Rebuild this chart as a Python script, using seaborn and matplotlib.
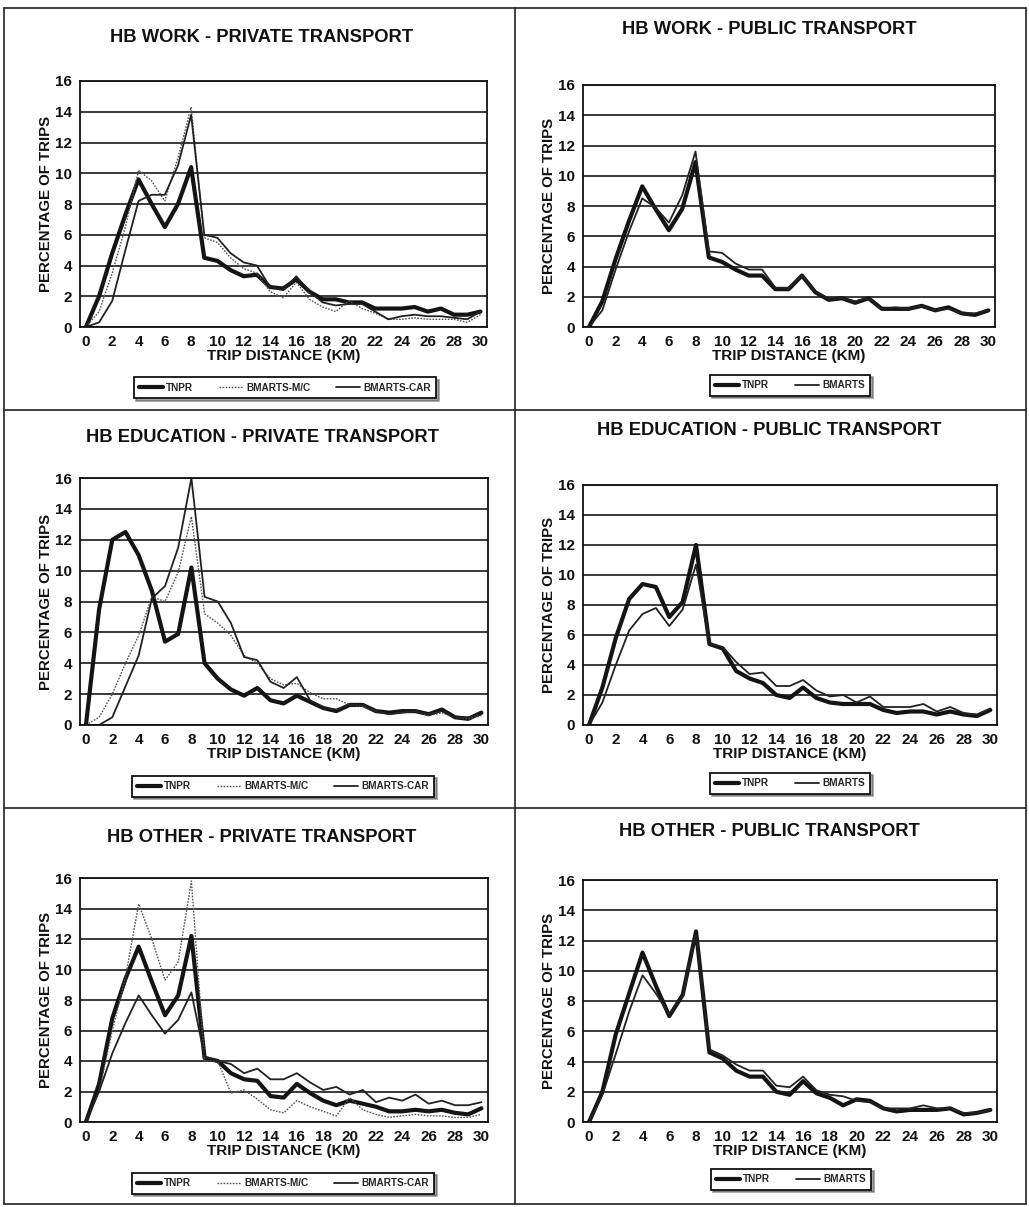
import seaborn as sns
import pandas as pd
import matplotlib.pyplot as plt
from matplotlib.lines import Line2D
from matplotlib.ticker import MultipleLocator

# trip distance in km (0..30)
distance_km = [0, 1, 2, 3, 4, 5, 6, 7, 8, 9, 10, 11, 12, 13, 14, 15,
               16, 17, 18, 19, 20, 21, 22, 23, 24, 25, 26, 27, 28, 29, 30]

# HB WORK - PRIVATE
work_priv_tnpr = [0, 2.0, 4.8, 7.3, 9.6, 8.0, 6.5, 8.0, 10.4, 4.5, 4.3, 3.7, 3.3,
                  3.4, 2.6, 2.5, 3.1, 2.3, 1.8, 1.8, 1.6, 1.6, 1.2, 1.2, 1.2,
                  1.3, 1.0, 1.2, 0.8, 0.8, 1.0]
work_priv_mc = [0, 1.0, 3.5, 6.5, 10.2, 9.5, 8.2, 11.0, 14.3, 5.8, 5.5, 4.5,
                3.8, 3.5, 2.3, 1.9, 2.9, 1.8, 1.3, 1.0, 1.7, 1.2, 0.9, 0.5,
                0.5, 0.6, 0.5, 0.5, 0.5, 0.3, 0.8]
work_priv_car = [0, 0.3, 1.7, 5.0, 8.2, 8.6, 8.6, 10.5, 13.8, 6.0, 5.8, 4.8,
                 4.2, 4.0, 2.6, 2.4, 3.3, 2.3, 1.6, 1.4, 1.5, 1.5, 1.0, 0.5,
                 0.7, 0.8, 0.7, 0.7, 0.6, 0.5, 1.0]

# HB WORK - PUBLIC
work_pub_tnpr = [0, 1.7, 4.5, 7.0, 9.3, 7.8, 6.4, 7.8, 10.9, 4.6, 4.3, 3.8,
                 3.4, 3.4, 2.5, 2.5, 3.4, 2.3, 1.8, 1.9, 1.6, 1.9, 1.2, 1.2,
                 1.2, 1.4, 1.1, 1.3, 0.9, 0.8, 1.1]
work_pub_bmarts = [0, 1.1, 3.8, 6.3, 8.5, 7.9, 6.9, 8.7, 11.6, 5.0, 4.9, 4.2,
                   3.8, 3.8, 2.6, 2.6, 3.4, 2.3, 1.9, 1.9, 1.7, 1.9, 1.2, 1.3,
                   1.2, 1.4, 1.1, 1.2, 0.9, 0.9, 1.1]

# HB EDUCATION - PRIVATE
edu_priv_tnpr = [0, 7.5, 12.0, 12.5, 11.0, 8.7, 5.4, 5.9, 10.2, 4.0, 3.0, 2.3,
                 1.9, 2.4, 1.6, 1.4, 1.9, 1.5, 1.1, 0.9, 1.3, 1.3, 0.9, 0.8,
                 0.9, 0.9, 0.7, 1.0, 0.5, 0.4, 0.8]
edu_priv_mc = [0, 0.5, 2.0, 4.0, 5.8, 8.3, 8.0, 9.9, 13.5, 7.2, 6.6, 5.8, 4.5,
               4.0, 3.0, 2.6, 2.7, 2.1, 1.7, 1.7, 1.3, 1.2, 0.9, 0.7, 0.8,
               0.9, 0.6, 0.8, 0.5, 0.4, 0.6]
edu_priv_car = [0, 0.0, 0.5, 2.5, 4.5, 8.2, 9.0, 11.5, 16.0, 8.3, 8.0, 6.6,
                4.4, 4.2, 2.8, 2.4, 3.1, 1.6, 1.1, 1.0, 1.3, 1.3, 0.9, 0.7,
                0.8, 0.9, 0.7, 0.9, 0.5, 0.5, 0.7]

# HB EDUCATION - PUBLIC
edu_pub_tnpr = [0, 2.5, 5.8, 8.4, 9.4, 9.2, 7.2, 8.2, 12.0, 5.4, 5.1, 3.6, 3.1,
                2.8, 2.0, 1.8, 2.5, 1.8, 1.5, 1.4, 1.4, 1.4, 1.0, 0.8, 0.9,
                0.9, 0.7, 0.9, 0.7, 0.6, 1.0]
edu_pub_bmarts = [0, 1.5, 4.0, 6.3, 7.4, 7.8, 6.6, 7.7, 10.7, 5.4, 5.2, 4.2,
                  3.4, 3.5, 2.6, 2.6, 3.0, 2.3, 1.9, 2.0, 1.5, 1.9, 1.2, 1.2,
                  1.2, 1.4, 0.9, 1.2, 0.8, 0.7, 1.1]

# HB OTHER - PRIVATE
oth_priv_tnpr = [0, 2.5, 6.8, 9.4, 11.5, 9.2, 7.0, 8.3, 12.2, 4.2, 4.0, 3.2,
                 2.8, 2.7, 1.7, 1.6, 2.5, 1.9, 1.4, 1.1, 1.4, 1.2, 1.0, 0.7,
                 0.7, 0.8, 0.7, 0.8, 0.6, 0.5, 0.9]
oth_priv_mc = [0, 2.0, 6.0, 9.5, 14.3, 12.0, 9.3, 10.5, 15.8, 4.0, 4.0, 1.9,
               2.1, 1.5, 0.8, 0.6, 1.4, 1.0, 0.7, 0.4, 1.6, 0.8, 0.5, 0.3,
               0.4, 0.5, 0.4, 0.4, 0.3, 0.3, 0.5]
oth_priv_car = [0, 2.0, 4.5, 6.5, 8.3, 7.0, 5.8, 6.7, 8.5, 4.3, 4.0, 3.8, 3.2,
                3.5, 2.8, 2.8, 3.2, 2.6, 2.1, 2.3, 1.8, 2.1, 1.3, 1.6, 1.4,
                1.8, 1.2, 1.4, 1.1, 1.1, 1.3]

# HB OTHER - PUBLIC
oth_pub_tnpr = [0, 2.0, 5.8, 8.5, 11.2, 9.0, 7.0, 8.4, 12.6, 4.6, 4.2, 3.4,
                3.0, 3.0, 2.0, 1.8, 2.7, 1.9, 1.6, 1.1, 1.5, 1.4, 0.9, 0.7,
                0.8, 0.8, 0.8, 0.9, 0.5, 0.6, 0.8]
oth_pub_bmarts = [0, 1.8, 4.5, 7.3, 9.7, 8.5, 7.1, 8.4, 12.4, 4.8, 4.4, 3.8,
                  3.4, 3.4, 2.4, 2.3, 3.0, 2.1, 1.8, 1.7, 1.4, 1.3, 0.9, 0.9,
                  0.9, 1.1, 0.9, 0.9, 0.6, 0.6, 0.8]

titles = ["HB WORK - PRIVATE TRANSPORT", "HB WORK - PUBLIC TRANSPORT",
          "HB EDUCATION - PRIVATE TRANSPORT", "HB EDUCATION - PUBLIC TRANSPORT",
          "HB OTHER - PRIVATE TRANSPORT", "HB OTHER - PUBLIC TRANSPORT"]
x_tick_labels = ["0", "2", "4", "6", "8", "10", "12", "14", "16", "18", "20",
                 "22", "24", "26", "28", "30"]
y_tick_labels = ["0", "2", "4", "6", "8", "10", "12", "14", "16"]

W, H = 1029, 1207
# line styles per series name
STYLES = {
    "TNPR": dict(color="#141414", lw=3.0, ls="-"),
    "BMARTS-M/C": dict(color="#555555", lw=1.0, ls=(0, (1.2, 1.0))),
    "BMARTS-CAR": dict(color="#222222", lw=1.3, ls="-"),
    "BMARTS": dict(color="#222222", lw=1.3, ls="-"),
}


def draw_panel(fig, rect, title, title_xy, legend_xy, series):
    ax = fig.add_axes(rect)
    df = pd.DataFrame({"km": distance_km})
    for name, values in series:
        df[name] = values
    long_df = df.melt(id_vars="km", var_name="series", value_name="pct")
    for name, _ in series:
        st = STYLES[name]
        sns.lineplot(data=long_df[long_df["series"] == name], x="km", y="pct",
                     ax=ax, color=st["color"], linewidth=st["lw"],
                     linestyle=st["ls"], label=name)
    ax.set_xlim(-0.45, 30.5)
    ax.set_ylim(0, 16)
    ax.set_xticks(range(0, 31, 2))
    ax.set_xticklabels(x_tick_labels)
    ax.xaxis.set_minor_locator(MultipleLocator(1))
    ax.set_yticks(range(0, 17, 2))
    ax.set_yticklabels(y_tick_labels)
    ax.tick_params(axis="both", which="both", direction="inout", length=7,
                   width=1.3, color="#111", labelsize=11, pad=2,
                   labelcolor="#111")
    for lab in ax.get_xticklabels() + ax.get_yticklabels():
        lab.set_fontweight("bold")
    ax.grid(axis="y", color="#2a2a2a", lw=1.3)
    ax.grid(axis="x", visible=False)
    for sp in ax.spines.values():
        sp.set_color("#111")
        sp.set_linewidth(1.3)
    ax.set_xlabel("TRIP DISTANCE (KM)", fontsize=11, fontweight="bold",
                  labelpad=0, color="#111")
    ax.set_ylabel("PERCENTAGE OF TRIPS", fontsize=10.8, fontweight="bold",
                  labelpad=2, color="#111")
    fig.text(title_xy[0] / W, 1 - title_xy[1] / H, title, ha="center",
             va="center", fontsize=13.2, fontweight="bold", color="#111")
    leg = ax.legend(loc="center", ncol=len(series),
                    bbox_to_anchor=(legend_xy[0] / W, 1 - legend_xy[1] / H),
                    bbox_transform=fig.transFigure,
                    handlelength=2.4, handletextpad=0.3, columnspacing=2.6,
                    frameon=True, fancybox=False, shadow=True,
                    borderpad=0.55, prop={"weight": "bold", "size": 7.2})
    leg.get_frame().set_edgecolor("#111")
    leg.get_frame().set_linewidth(1.3)
    return ax


def main():
    sns.set_style("white")
    plt.rcParams["font.family"] = ["Liberation Sans", "DejaVu Sans"]
    fig = plt.figure(figsize=(W / 100, H / 100), dpi=100)

    panels = [
        ([80 / W, 1 - 327 / H, 407 / W, 246 / H], titles[0], (262, 37), (285, 388),
         [("TNPR", work_priv_tnpr), ("BMARTS-M/C", work_priv_mc),
          ("BMARTS-CAR", work_priv_car)]),
        ([583 / W, 1 - 327 / H, 412 / W, 242 / H], titles[1], (769, 30), (790, 385),
         [("TNPR", work_pub_tnpr), ("BMARTS", work_pub_bmarts)]),
        ([80 / W, 1 - 725 / H, 408 / W, 247 / H], titles[2], (262, 437), (283, 786),
         [("TNPR", edu_priv_tnpr), ("BMARTS-M/C", edu_priv_mc),
          ("BMARTS-CAR", edu_priv_car)]),
        ([583 / W, 1 - 725 / H, 414 / W, 240 / H], titles[3], (769, 430), (790, 783),
         [("TNPR", edu_pub_tnpr), ("BMARTS", edu_pub_bmarts)]),
        ([80 / W, 1 - 1122 / H, 408 / W, 244 / H], titles[4], (262, 838), (283, 1183),
         [("TNPR", oth_priv_tnpr), ("BMARTS-M/C", oth_priv_mc),
          ("BMARTS-CAR", oth_priv_car)]),
        ([583 / W, 1 - 1122 / H, 414 / W, 242 / H], titles[5], (769, 832), (791, 1179),
         [("TNPR", oth_pub_tnpr), ("BMARTS", oth_pub_bmarts)]),
    ]
    for rect, title, txy, lxy, series in panels:
        draw_panel(fig, rect, title, txy, lxy, series)

    # panel frames of the scanned page
    frame_kw = dict(color="#222", lw=1.2, transform=fig.transFigure)
    for y in [8, 410, 808, 1204]:
        fig.add_artist(Line2D([4 / W, 1026 / W], [1 - y / H, 1 - y / H], **frame_kw))
    for x in [4, 515, 1026]:
        fig.add_artist(Line2D([x / W, x / W], [1 - 8 / H, 1 - 1204 / H], **frame_kw))

    fig.savefig("out.png", dpi=100)


if __name__ == "__main__":
    main()
